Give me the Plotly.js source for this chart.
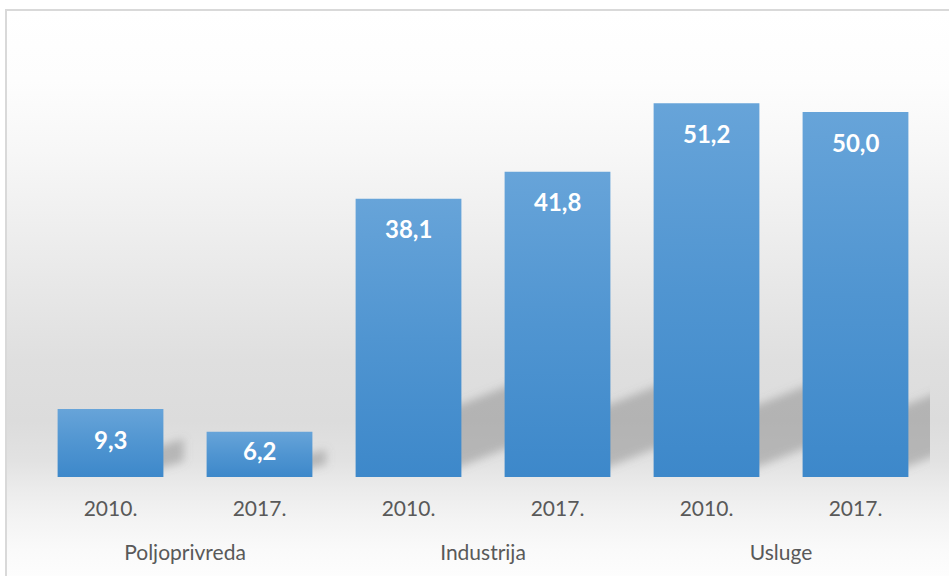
<!DOCTYPE html>
<html>
<head>
<meta charset="utf-8">
<script src="https://cdn.plot.ly/plotly-3.0.1.min.js"></script>
<style>
  html, body { margin: 0; padding: 0; background: #ffffff; }
  #wrap { position: relative; width: 949px; height: 576px; overflow: hidden; background: #ffffff; }
  #bg { position: absolute; left: 5px; top: 9px; width: 944px; height: 567px;
        border-top: 2px solid #d9d9d9; border-left: 2px solid #d9d9d9;
        background: linear-gradient(to bottom,
          #ffffff 0px, #fdfdfd 70px, #f7f7f7 140px, #efefef 210px, #e6e6e6 290px,
          #dfdfdf 350px, #dcdcdc 410px, #e2e2e2 450px, #ececec 480px, #f4f4f4 510px,
          #fafafa 540px, #fdfdfd 567px); }
  #chart { position: absolute; left: 0; top: 0; width: 949px; height: 576px; }
</style>
</head>
<body>
<div id="wrap">
  <div id="bg"></div>
  <div id="chart"></div>
</div>
<script>
// ---- data ----
const sectors = ['Poljoprivreda', 'Poljoprivreda', 'Industrija', 'Industrija', 'Usluge', 'Usluge'];
const years = ['2010.', '2017.', '2010.', '2017.', '2010.', '2017.'];
const values = [9.3, 6.2, 38.1, 41.8, 51.2, 50.0];

const fmt = v => v.toFixed(1).replace('.', ',');

const W = 949, Hgt = 576, M = { l: 36, r: 19, t: 39, b: 99 };
const yRange = [0, 60];
const pxPerUnit = (Hgt - M.t - M.b) / (yRange[1] - yRange[0]);

const trace = {
  type: 'bar',
  x: [sectors, years],
  y: values,
  width: 0.71,
  marker: { color: '#4f94d0', line: { width: 0 } },
  hoverinfo: 'none'
};

const annotations = values.map((v, i) => ({
  x: i, y: v, xref: 'x', yref: 'y',
  text: fmt(v), showarrow: false,
  yshift: -Math.min(30, v * pxPerUnit - 27),
  font: { family: 'Lato, sans-serif', size: 24, color: '#ffffff', weight: 'bold' }
}));

const layout = {
  width: W, height: Hgt,
  margin: M,
  paper_bgcolor: 'rgba(0,0,0,0)',
  plot_bgcolor: 'rgba(0,0,0,0)',
  showlegend: false,
  xaxis: {
    type: 'multicategory',
    showdividers: false,
    showline: false, showgrid: false, zeroline: false,
    ticks: '',
    ticklabelstandoff: 17,
    tickfont: { family: 'Lato, sans-serif', size: 21, color: '#595959' }
  },
  yaxis: { range: yRange, visible: false, showgrid: false, zeroline: false },
  annotations: annotations
};

Plotly.newPlot('chart', [trace], layout, { displayModeBar: false, staticPlot: true }).then(gd => {
  const NS = 'http://www.w3.org/2000/svg';
  // push the sector (second-level) labels further below the year labels
  gd.querySelectorAll('.xtick2').forEach(t => t.setAttribute('transform', 'translate(0,34)'));

  const barlayer = gd.querySelector('.barlayer');
  if (!barlayer) return;
  const plotG = barlayer.parentNode;
  const g = document.createElementNS(NS, 'g');
  g.innerHTML =
    '<defs>' +
    '<filter id="shBlur" x="-50%" y="-50%" width="200%" height="200%"><feGaussianBlur stdDeviation="4.5"/></filter>' +
    '<linearGradient id="barGrad" x1="0" y1="0" x2="0" y2="1">' +
    '<stop offset="0" stop-color="#67a4d9"/><stop offset="0.5" stop-color="#5095d1"/><stop offset="1" stop-color="#3d88ca"/>' +
    '</linearGradient></defs>';
  plotG.insertBefore(g, barlayer);
  const paths = barlayer.querySelectorAll('.point path');
  paths.forEach(p => {
    const b = p.getBBox();
    const base = b.y + b.height, R = b.x + b.width, H = b.height;
    const h = Math.min(0.33 * H, 62), a = 6, w = Math.min(58, 0.3 * H), s = 0.48;
    const pts = [
      [R - 12, base - a], [R + w, base - a - w * s],
      [R + w, base - a - h - w * s], [R - 12, base - a - h]
    ].map(q => q.join(',')).join(' ');
    const poly = document.createElementNS(NS, 'polygon');
    poly.setAttribute('points', pts);
    poly.setAttribute('fill', '#7a7a7a');
    poly.setAttribute('fill-opacity', '0.42');
    poly.setAttribute('filter', 'url(#shBlur)');
    g.appendChild(poly);
    p.style.fill = 'url(#barGrad)';
  });
});
</script>
</body>
</html>
